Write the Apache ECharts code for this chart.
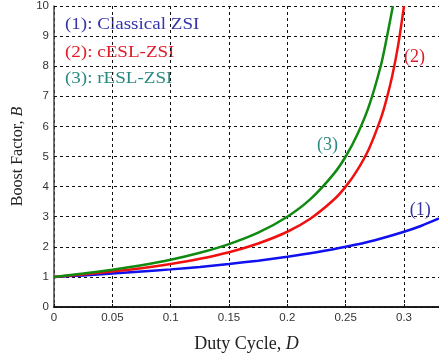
<!DOCTYPE html>
<html>
<head>
<meta charset="utf-8">
<script src="https://cdn.jsdelivr.net/npm/echarts@6/dist/echarts.min.js"></script>
<style>
  html, body { margin: 0; padding: 0; background: #fff; }
  #chart { width: 439px; height: 361px; }
</style>
</head>
<body>
<div id="chart"></div>
<script>
// Boost factor B versus duty cycle D for three Z-source inverter topologies
var classicalD = [0, 0.025, 0.05, 0.075, 0.1, 0.125, 0.15, 0.175, 0.2, 0.225, 0.25, 0.275, 0.3, 0.315, 0.33];
var classicalB = [1, 1.05, 1.11, 1.18, 1.25, 1.33, 1.43, 1.54, 1.67, 1.82, 2.0, 2.22, 2.5, 2.7, 2.94];

var cEslD = [0, 0.025, 0.05, 0.075, 0.1, 0.125, 0.15, 0.175, 0.2, 0.22, 0.24, 0.25, 0.26, 0.27, 0.28, 0.285, 0.29, 0.295, 0.3];
var cEslB = [1, 1.08, 1.18, 1.29, 1.43, 1.6, 1.82, 2.11, 2.5, 2.94, 3.57, 4.0, 4.55, 5.26, 6.25, 6.9, 7.69, 8.7, 10];

var rEslD = [0, 0.025, 0.05, 0.075, 0.1, 0.125, 0.15, 0.175, 0.2, 0.22, 0.24, 0.25, 0.26, 0.27, 0.28, 0.285, 0.2905];
var rEslB = [1, 1.11, 1.24, 1.39, 1.57, 1.8, 2.09, 2.47, 3.0, 3.59, 4.43, 5.0, 5.73, 6.68, 8.0, 8.9, 10];

var legendTexts = ['(1): Classical ZSI', '(2): cESL-ZSI', '(3): rESL-ZSI'];
var curveTags = ['(1)', '(2)', '(3)'];
// where each curve tag sits, in (D, B)
var tagD = [0.314, 0.309, 0.2345];
var tagB = [3.2, 8.3, 5.36];

var xTicks = [0, 0.05, 0.1, 0.15, 0.2, 0.25, 0.3];

var blue = '#1010f0';
var red = '#f01010';
var green = '#108a10';
var textBlue = '#3535a8';
var textRed = '#e01a2a';
var textTeal = '#2a8a80';

function pairs(xs, ys) {
  return xs.map(function (x, i) { return [x, ys[i]]; });
}

var serif = '"Liberation Serif", "DejaVu Serif", serif';
var sans = '"Liberation Sans", Arial, sans-serif';

function tagPoint(i, color) {
  return {
    symbol: 'circle',
    symbolSize: 0,
    silent: true,
    data: [{
      coord: [tagD[i], tagB[i]],
      label: {
        show: true,
        position: 'inside',
        formatter: curveTags[i],
        color: color,
        fontFamily: serif,
        fontSize: 18
      }
    }]
  };
}

// legend block: serif text, slightly widened
function legendItem(i, top, color) {
  return {
    type: 'text',
    x: 65,
    y: top,
    scaleX: 1.12,
    scaleY: 1,
    style: { text: legendTexts[i], fill: color, font: '17px ' + serif, textVerticalAlign: 'middle' }
  };
}

var chart = echarts.init(document.getElementById('chart'), null, { renderer: 'canvas' });

chart.setOption({
  animation: false,
  backgroundColor: '#fff',
  grid: { left: 54, top: 6, right: 0, bottom: 54, containLabel: false },
  xAxis: [{
    type: 'value',
    min: 0,
    max: 0.33,
    interval: 0.05,
    name: '{n|Duty Cycle, }{i|D}',
    nameLocation: 'middle',
    nameGap: 28,
    nameTextStyle: {
      rich: {
        n: { fontFamily: serif, fontSize: 18, color: '#222' },
        i: { fontFamily: serif, fontSize: 18, fontStyle: 'italic', color: '#222' }
      }
    },
    axisLine: { show: true, onZero: false, lineStyle: { color: '#111', width: 1.5 } },
    axisTick: { show: true, inside: true, length: 3, lineStyle: { color: '#111' } },
    axisLabel: {
      color: '#333', fontFamily: sans, fontSize: 11.5, margin: 5,
      showMaxLabel: false,
      formatter: function (v) {
        for (var k = 0; k < xTicks.length; k++) {
          if (Math.abs(v - xTicks[k]) < 1e-9) return String(xTicks[k]);
        }
        return '';
      }
    },
    splitLine: { show: true, lineStyle: { color: '#111', type: [3, 3], width: 1 } }
  }, {
    // top frame edge
    type: 'value',
    position: 'top',
    min: 0,
    max: 0.33,
    interval: 0.05,
    axisLine: { show: true, lineStyle: { color: '#111', width: 1.5 } },
    axisTick: { show: false },
    axisLabel: { show: false },
    splitLine: { show: false }
  }],
  yAxis: {
    type: 'value',
    min: 0,
    max: 10,
    interval: 1,
    name: '{n|Boost Factor, }{i|B}',
    nameLocation: 'middle',
    nameGap: 20,
    nameRotate: 90,
    nameTextStyle: {
      rich: {
        n: { fontFamily: serif, fontSize: 16, color: '#222' },
        i: { fontFamily: serif, fontSize: 16, fontStyle: 'italic', color: '#222' }
      }
    },
    axisLine: { show: true, onZero: false, lineStyle: { color: '#444', width: 1.5 } },
    axisTick: { show: true, inside: true, length: 3, lineStyle: { color: '#111' } },
    axisLabel: { color: '#333', fontFamily: sans, fontSize: 11.5, margin: 5 },
    splitLine: { show: true, lineStyle: { color: '#111', type: [3, 3], width: 1 } }
  },
  graphic: [
    legendItem(0, 25, textBlue),
    legendItem(1, 53, textRed),
    legendItem(2, 79, textTeal)
  ],
  series: [{
    name: legendTexts[0],
    type: 'line',
    data: pairs(classicalD, classicalB),
    smooth: 0.3,
    showSymbol: false,
    clip: true,
    lineStyle: { color: blue, width: 2.5 },
    markPoint: tagPoint(0, textBlue)
  }, {
    name: legendTexts[1],
    type: 'line',
    data: pairs(cEslD, cEslB),
    smooth: 0.3,
    showSymbol: false,
    clip: true,
    lineStyle: { color: red, width: 2.5 },
    markPoint: tagPoint(1, textRed)
  }, {
    name: legendTexts[2],
    type: 'line',
    data: pairs(rEslD, rEslB),
    smooth: 0.3,
    showSymbol: false,
    clip: true,
    lineStyle: { color: green, width: 2.5 },
    markPoint: tagPoint(2, textTeal)
  }]
});
</script>
</body>
</html>
